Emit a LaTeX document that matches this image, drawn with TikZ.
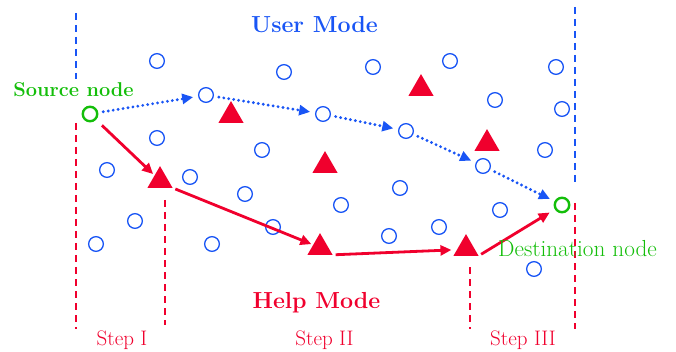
\documentclass[tikz,border=0pt]{standalone}
\usepackage{fontspec}
\usepackage{tikz}
\usetikzlibrary{arrows.meta,positioning,calc,shapes.geometric}

\definecolor{umblue}{RGB}{25,85,245}
\definecolor{hmred}{RGB}{240,0,45}
\definecolor{sdgreen}{RGB}{20,190,10}

\begin{document}
\begin{tikzpicture}[x=1pt,y=-1pt,
		usr/.style={circle, draw=umblue, line width=1.3pt, minimum size=14.7pt, inner sep=0pt},
		endpt/.style={circle, draw=sdgreen, line width=2.4pt, minimum size=14.5pt, inner sep=0pt},
		hlp/.style={regular polygon, regular polygon sides=3, fill=hmred, minimum size=29pt, inner sep=0pt, outer sep=0pt},
		bnd/.style={line width=2pt, dash pattern=on 7pt off 5pt},
		udot/.style={umblue, line width=3.2pt, line cap=round, dash pattern=on 0pt off 5pt, -{Triangle[length=11pt,width=10pt]}, shorten <=5pt, shorten >=5pt},
		hpath/.style={hmred, line width=2.8pt, -{Triangle[length=11pt,width=10pt]}},
		modelbl/.style={font=\fontsize{23.2}{28}\selectfont\bfseries, anchor=base},
		steplbl/.style={text=hmred, font=\fontsize{21}{24}\selectfont, anchor=base}]
	\useasboundingbox (0,0) rectangle (676,352);

	% mode boundaries
	\draw[bnd, umblue] (76,13) -- (76,79);
	\draw[bnd, hmred] (76,123) -- (76,329);
	\draw[bnd, umblue] (575,7) -- (575,184);
	\draw[bnd, hmred] (575,203) -- (575,329);
	\draw[bnd, hmred] (165,200) -- (165,325);
	\draw[bnd, hmred] (470,267) -- (470,329);

	% user mode nodes
	\node[usr] (b1) at (157,61) {};
	\node[usr] (p1) at (206,95) {};
	\node[usr] (b2) at (284,72) {};
	\node[usr] (b3) at (157,138) {};
	\node[usr] (b4) at (107,170) {};
	\node[usr] (b5) at (190,177) {};
	\node[usr] (b6) at (262,150) {};
	\node[usr] (b7) at (245,194) {};
	\node[usr] (p2) at (323,114) {};
	\node[usr] (b8) at (373,67) {};
	\node[usr] (b9) at (450,61) {};
	\node[usr] (b10) at (495,100) {};
	\node[usr] (b11) at (556,67) {};
	\node[usr] (b12) at (562,109) {};
	\node[usr] (p3) at (406,131) {};
	\node[usr] (b13) at (545,150) {};
	\node[usr] (p4) at (483,166) {};
	\node[usr] (b14) at (400,188) {};
	\node[usr] (b15) at (341,205) {};
	\node[usr] (b16) at (273,227) {};
	\node[usr] (b17) at (135,221) {};
	\node[usr] (b18) at (96,244) {};
	\node[usr] (b19) at (212,244) {};
	\node[usr] (b20) at (389,236) {};
	\node[usr] (b21) at (439,227) {};
	\node[usr] (b22) at (500,210) {};
	\node[usr] (b23) at (534,269) {};

	% help mode nodes
	\node[hlp] (ha) at (231,115.6) {};
	\node[hlp] (hb) at (325,165.6) {};
	\node[hlp] (hc) at (421,88.6) {};
	\node[hlp] (hd) at (487,143.6) {};
	\node[hlp] (h1) at (160,180.6) {};
	\node[hlp] (h2) at (320,247.6) {};
	\node[hlp] (h3) at (466,248.6) {};

	% end points
	\node[endpt] (src) at (90,114) {};
	\node[endpt] (dst) at (562,205) {};

	% user mode route
	\draw[udot] (src) -- (p1);
	\draw[udot] (p1) -- (p2);
	\draw[udot] (p2) -- (p3);
	\draw[udot] (p3) -- (p4);
	\draw[udot] (p4) -- (dst);

	% help mode route
	\draw[hpath, shorten <=8pt, shorten >=2pt] (src) -- (h1);
	\draw[hpath, shorten <=3pt, shorten >=2pt] (h1.corner 3) -- (h2);
	\draw[hpath, shorten <=3pt, shorten >=2pt] (h2.corner 3) -- ([yshift=6pt]h3.corner 2);
	\draw[hpath, shorten <=3pt, shorten >=6pt] (h3.corner 3) -- (dst);

	% labels
	\node[modelbl, text=umblue] (umode) at (314.5,33) {User Mode};
	\node[modelbl, text=hmred] (hmode) at (316.5,308) {Help Mode};
	\node[text=sdgreen, font=\fontsize{20}{24}\selectfont\bfseries, anchor=base] (srclbl) at (73.5,97) {Source node};
	\node[text=sdgreen, font=\fontsize{23.2}{26}\selectfont, anchor=base] (dstlbl) at (577.5,257) {Destination node};
	\node[steplbl] (s1) at (122,345) {Step I};
	\node[steplbl] (s2) at (324.5,345) {Step II};
	\node[steplbl] (s3) at (523,345) {Step III};
\end{tikzpicture}
\end{document}
